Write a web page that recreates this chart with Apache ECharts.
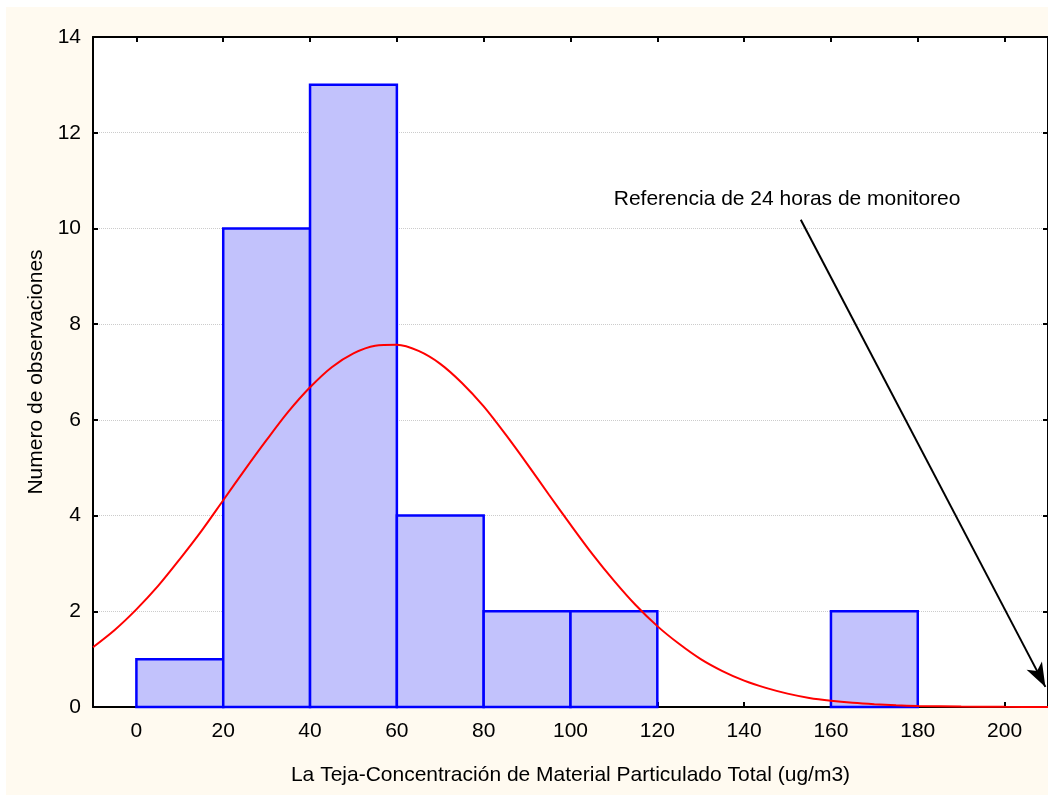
<!DOCTYPE html>
<html>
<head>
<meta charset="utf-8">
<script src="https://cdn.jsdelivr.net/npm/echarts@6/dist/echarts.min.js"></script>
<style>html,body{margin:0;padding:0;background:#fff;}#c{width:1048px;height:795px;}</style>
</head>
<body>
<div id="c"></div>
<script>
// Histogram bins (ug/m3) and counts
const binLow  = [0, 20, 40, 60, 80, 100, 120, 140, 160];
const binHigh = [20, 40, 60, 80, 100, 120, 140, 160, 180];
const counts  = [1, 10, 13, 4, 2, 2, 0, 0, 2];

// Fitted normal curve
const curveX = [-10, -5, 0, 5, 10, 15, 20, 25, 30, 35, 40, 45, 50, 55, 60, 65, 70, 75, 80, 85, 90, 95, 100, 105, 110, 115, 120, 125, 130, 135, 140, 145, 150, 155, 160, 165, 170, 175, 180, 190, 200, 210];
const curveY = [1.25, 1.61, 2.04, 2.53, 3.09, 3.68, 4.32, 4.96, 5.58, 6.17, 6.68, 7.10, 7.39, 7.55, 7.57, 7.44, 7.17, 6.77, 6.28, 5.70, 5.08, 4.44, 3.81, 3.20, 2.64, 2.13, 1.69, 1.32, 1.00, 0.75, 0.55, 0.40, 0.28, 0.19, 0.13, 0.087, 0.057, 0.036, 0.023, 0.008, 0.003, 0.001];

// Tick labels
const xTicks = [0, 20, 40, 60, 80, 100, 120, 140, 160, 180, 200];

// Annotation
const noteText = 'Referencia de 24 horas de monitoreo';
const notePos = [149.9, 10.62];
const arrowFrom = [153.05, 10.18];
const arrowTo = [209.4, 0.42];

const xTitle = 'La Teja-Concentración de Material Particulado Total (ug/m3)';
const yTitle = 'Numero de observaciones';

const FONT = 'Liberation Sans, Arial, sans-serif';
const chart = echarts.init(document.getElementById('c'), null, {renderer: 'canvas'});

const barData = [];
for (let i = 0; i < counts.length; i++) {
  if (counts[i] > 0) barData.push([binLow[i], binHigh[i], counts[i]]);
}

const option = {
  animation: false,
  backgroundColor: '#fffaf0',
  graphic: [
    {type: 'rect', shape: {x: 0, y: 0, width: 1048, height: 7}, style: {fill: '#ffffff'}, silent: true},
    {type: 'rect', shape: {x: 0, y: 0, width: 6, height: 795}, style: {fill: '#ffffff'}, silent: true}
  ],
  grid: {left: 93, top: 37, width: 956, height: 670, show: true, backgroundColor: '#ffffff', borderWidth: 0},
  xAxis: [{
    type: 'value', min: -10, max: 210, position: 'bottom',
    name: xTitle, nameLocation: 'middle', nameGap: 58,
    nameTextStyle: {fontFamily: FONT, fontSize: 21, color: '#000'},
    axisLine: {show: true, onZero: false, lineStyle: {color: '#000', width: 2}},
    axisTick: {show: true, inside: true, length: 5, customValues: xTicks, lineStyle: {color: '#000', width: 2}},
    axisLabel: {show: true, customValues: xTicks, margin: 14, fontFamily: FONT, fontSize: 21, color: '#000'},
    splitLine: {show: false}
  }, {
    type: 'value', min: -10, max: 210, position: 'top',
    axisLine: {show: true, onZero: false, lineStyle: {color: '#000', width: 2}},
    axisTick: {show: true, inside: true, length: 5, customValues: xTicks, lineStyle: {color: '#000', width: 2}},
    axisLabel: {show: false},
    splitLine: {show: false}
  }],
  yAxis: [{
    type: 'value', min: 0, max: 14, interval: 2, position: 'left',
    name: yTitle, nameLocation: 'middle', nameGap: 46,
    nameTextStyle: {fontFamily: FONT, fontSize: 21, color: '#000'},
    axisLine: {show: true, onZero: false, lineStyle: {color: '#000', width: 2}},
    axisTick: {show: true, inside: true, length: 5, lineStyle: {color: '#000', width: 2}},
    axisLabel: {margin: 12, fontFamily: FONT, fontSize: 21, color: '#000'},
    splitLine: {show: true, lineStyle: {color: '#cccccc', type: 'dotted', width: 1}}
  }, {
    type: 'value', min: 0, max: 14, interval: 2, position: 'right',
    axisLine: {show: true, onZero: false, lineStyle: {color: '#000', width: 2}},
    axisTick: {show: true, inside: true, length: 5, lineStyle: {color: '#000', width: 2}},
    axisLabel: {show: false},
    splitLine: {show: false}
  }],
  series: [{
    type: 'custom',
    xAxisIndex: 0, yAxisIndex: 0,
    encode: {x: [0, 1], y: 2},
    data: barData,
    z: 2,
    renderItem: function (params, api) {
      const p0 = api.coord([api.value(0), 0]);
      const p1 = api.coord([api.value(1), api.value(2)]);
      return {
        type: 'rect',
        shape: {x: p0[0], y: p1[1], width: p1[0] - p0[0], height: p0[1] - p1[1]},
        style: {fill: '#c2c2fc', stroke: '#0000ff', lineWidth: 2.5}
      };
    }
  }, {
    type: 'line',
    xAxisIndex: 0, yAxisIndex: 0,
    data: curveX.map((x, i) => [x, curveY[i]]),
    smooth: 0.3,
    showSymbol: false,
    clip: true,
    z: 3,
    lineStyle: {color: '#ff0000', width: 2},
    silent: true
  }, {
    type: 'line',
    xAxisIndex: 0, yAxisIndex: 0,
    data: [],
    z: 4,
    silent: true,
    markLine: {
      silent: true,
      symbol: ['none', 'arrow'],
      symbolSize: [13, 24],
      label: {show: false},
      lineStyle: {color: '#000', width: 2, type: 'solid'},
      data: [[{coord: arrowFrom}, {coord: arrowTo}]]
    },
    markPoint: {
      silent: true,
      symbol: 'rect',
      symbolSize: 1,
      itemStyle: {color: 'rgba(0,0,0,0)'},
      label: {show: true, position: 'inside', formatter: noteText, fontFamily: FONT, fontSize: 21, color: '#000'},
      data: [{coord: notePos}]
    }
  }]
};
chart.setOption(option);
</script>
</body>
</html>
